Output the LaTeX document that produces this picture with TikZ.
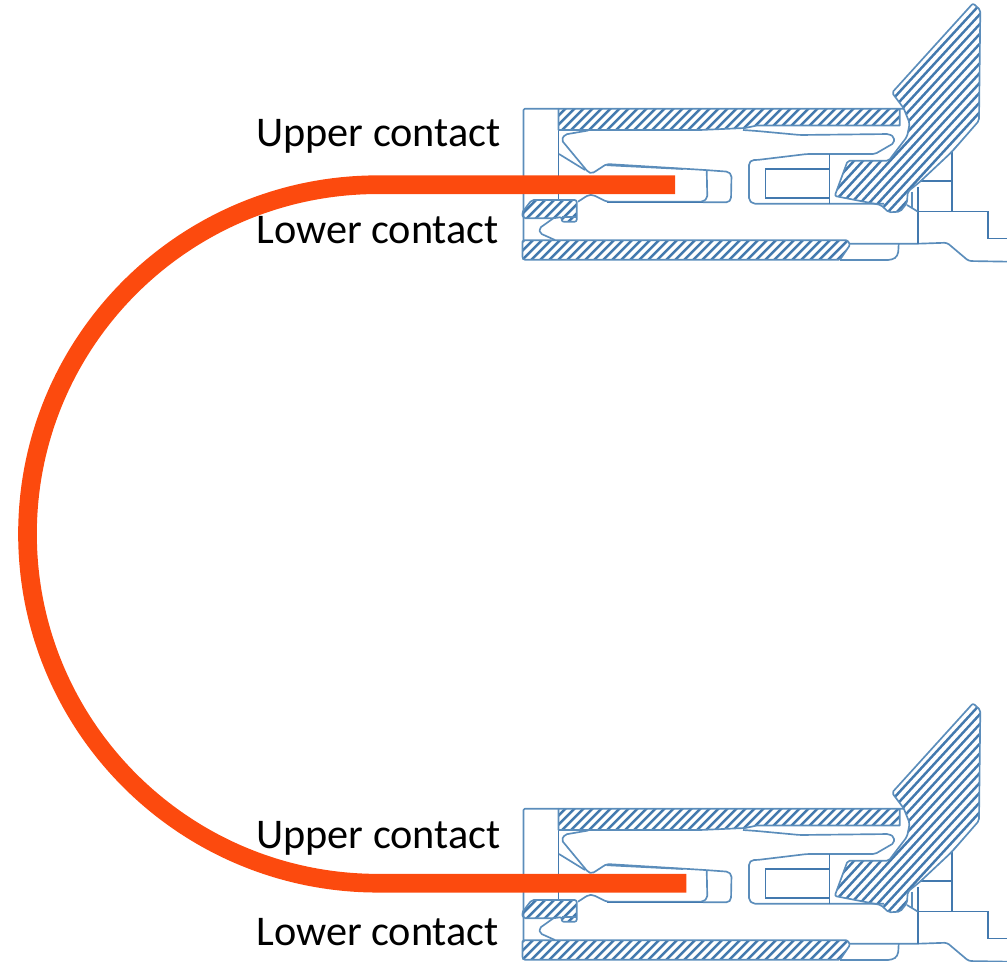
\documentclass[tikz,border=0pt]{standalone}
\usepackage{fontspec}
\setmainfont{Carlito}
\definecolor{lineblue}{HTML}{5B8DBB}
\definecolor{hatchblue}{HTML}{4379AE}
\definecolor{cable}{HTML}{FC4A0E}
\newcommand{\hatchshape}[5]{% path, x from, x to, spacing, slope
  \begin{scope}
    \clip #1;
    \foreach \c in {#2,\the\numexpr#2+#4\relax,...,#3}
      \draw[hatchline] (\c,300) -- ++(#5*320,-320);
  \end{scope}
  \draw[outl] #1;
}
\newcommand{\connector}[1]{%
\begin{scope}[yshift=#1]
  % housing outlines
  \draw[outl,rounded corners=1pt] (558.5,108.7) -- (523.5,108.7) -- (523.5,242);
  \draw[outlD] (558.5,108.7) -- (558.5,200);
  \draw[outl,rounded corners=1.5pt] (743,130) -- (757,131) -- (800,135) -- (889,134) -- (894,137) -- (894,143) -- (875,154) -- (807,154) -- (757,160) -- (752,160) -- (749,163) -- (749,200) -- (753,203.7) -- (884,203.7);
  \draw[outlD] (829.5,154) -- (829.5,204);
  \draw[outlD] (765.5,169) rectangle (829.5,198);
  % upper contact
  \draw[outl,rounded corners=1.5pt] (588.3,130.5) -- (565,134.5) -- (561.5,140) -- (588,172) -- (592,173.5) -- (606.7,164) -- (705,170) -- (728.3,171.7) -- (731.5,175) -- (731,199.5) -- (728.3,202.3) -- (703,202.3);
  \draw[outl] (606.7,165.2) -- (683,169);
  \draw[outl] (559,154) -- (585,170);
  \draw[outl,rounded corners=1.5pt] (706.7,170) -- (707.3,198) -- (703,201.7) -- (606.7,201.7) -- (593.3,195) -- (588.3,195) -- (578,201.7);
  \draw[hatchline,line width=.5pt] (606.7,202) -- (703,202);
  % upper bar
  \hatchshape{(558.5,108.7) -- (903.7,108.7) -- (899.7,108.7) -- (899.7,125.5) -- (757,125.5) -- (745,128) -- (700,130) -- (558.5,130) -- cycle}{230}{900}{9}{1}
  % lower latch
  \hatchshape{[rounded corners=1.5pt] (531.7,200) -- (576.7,200) -- (576.7,221.7) -- (561.7,221.7) -- (561.7,217) -- (553.3,218.3) -- (523.5,218.3) -- (521.7,213) -- cycle}{400}{500}{9}{1}
  \draw[outl,rounded corners=1.5pt] (553.3,218.3) -- (539.3,228.3) -- (540,233.3) -- (555,240);
  \draw[outl] (561.7,217) -- (576.7,217);
  % lower bar
  \hatchshape{[rounded corners=1pt] (522.5,240.3) -- (847.7,240.3) -- (850,245) -- (840,259.7) -- (523.5,259.7) -- (522.5,258) -- cycle}{230}{860}{9}{1}
  \draw[outl,rounded corners=2pt] (849.7,243.7) -- (918,243.7) -- (947,242.7) -- (968.7,261) -- (1010,261.7);
  \draw[outl,rounded corners=3pt] (898.7,244) -- (898,256) -- (892,260) -- (840,260);
  % rear blocks
  \draw[outlD] (952,152) -- (952,211.7);
  \draw[outlD] (920.3,181) -- (952,181);
  \draw[outlD] (918,186.7) -- (918,243.5);
  \draw[outlD] (918,211.7) -- (988,211.7) -- (988,238.3) -- (1010,238.3);
  \draw[outl] (907,205) -- (918,211.7);
  \draw[outl] (912,191.7) -- (912,208);
  % big hatched part
  \hatchshape{[rounded corners=1.5pt] (973,3.3) -- (980.3,10) -- (979,120.7) -- (952,151.7) -- (920,181.7) -- (907.7,191.7) -- (907,203) -- (900,211.7) -- (888.7,212.3) -- (881,205) -- (834.7,196) -- (847.7,160.7) -- (888.7,160.7) -- (907,136.7) -- (909.7,123.3) -- (903.7,108.3) -- (892,92.7) -- cycle}{600}{1000}{9}{.92}
\end{scope}}
\begin{document}
\begin{tikzpicture}[x=.75pt,y=-.75pt,
  outl/.style={draw=lineblue,line width=1.25pt,line join=round},
  outlD/.style={draw=hatchblue,line width=1.1pt},
  hatchline/.style={draw=hatchblue,line width=1.85pt},
  labeltext/.style={inner sep=0pt,anchor=base west,font=\fontsize{31.7}{34}\selectfont,text=black}]
\useasboundingbox (0,0) rectangle (1007,961);
\clip (0,0) rectangle (1007,961);
\connector{0pt}
\connector{-525pt}
\coordinate (topEnd) at (675,184.7);
\coordinate (botEnd) at (686.3,883.2);
\draw[cable,line width=14pt] (topEnd) -- (378,184.7) arc[start angle=270,end angle=90,x radius=350.5,y radius=349.25] -- (botEnd);
\node[labeltext] (u1) at (256,146.8) {Upper contact};
\node[labeltext] (l1) at (256,243.8) {Lower contact};
\node[labeltext] (u2) at (256,848.8) {Upper contact};
\node[labeltext] (l2) at (256,945.8) {Lower contact};
\end{tikzpicture}
\end{document}
